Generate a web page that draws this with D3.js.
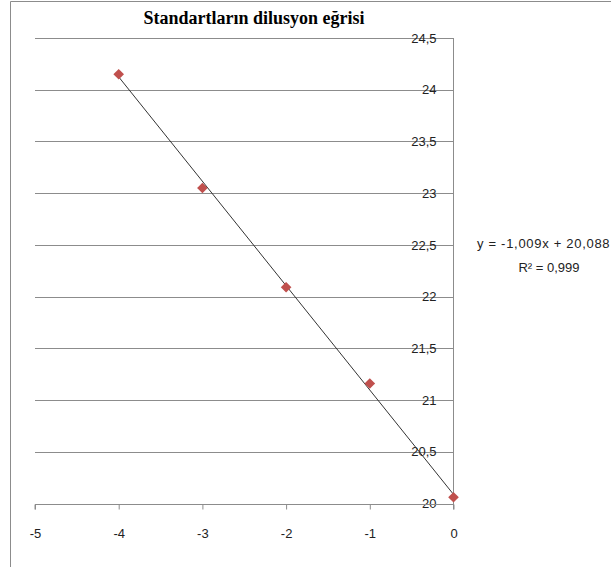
<!DOCTYPE html>
<html>
<head>
<meta charset="utf-8">
<script src="https://cdn.jsdelivr.net/npm/d3@7"></script>
<style>
  body { margin: 0; background: #fff; }
  svg { display: block; }
</style>
</head>
<body>
<div id="chart"></div>
<script>
// Data
var xValues = [-4, -3, -2, -1, 0];
var yValues = [24.15, 23.05, 22.09, 21.16, 20.06];
var xTicks = [-5, -4, -3, -2, -1, 0];
var yTicks = [20, 20.5, 21, 21.5, 22, 22.5, 23, 23.5, 24, 24.5];
var trendSlope = -1.009;
var trendIntercept = 20.088;
var rSquared = 0.999;

var width = 611;
var height = 567;

// Turkish number format: comma decimal, hyphen minus
var locale = d3.formatLocale({ decimal: ",", thousands: ".", grouping: [3], currency: ["", ""], minus: "-" });
var fmt = locale.format("");

var svg = d3.select("#chart")
  .append("svg")
  .attr("width", width)
  .attr("height", height);

// Chart frame
svg.append("path")
  .attr("d", "M10.5," + height + "V1.5H" + width)
  .attr("fill", "none")
  .attr("stroke", "#8c8c8c")
  .attr("stroke-width", 1);

var x = d3.scaleLinear().domain([-5, 0]).range([35, 453.5]);
var y = d3.scaleLinear().domain([20, 24.5]).range([503.5, 38]);

// Gridlines
svg.append("g")
  .selectAll("line")
  .data(yTicks)
  .enter().append("line")
  .attr("x1", x(-5))
  .attr("x2", x(0))
  .attr("y1", function(d) { return Math.round(y(d)) + 0.5; })
  .attr("y2", function(d) { return Math.round(y(d)) + 0.5; })
  .attr("stroke", "#8c8c8c")
  .attr("stroke-width", 1);

// Y axis (sits at x = 0)
var yAxis = svg.append("g")
  .attr("transform", "translate(" + x(0) + ",0)")
  .call(d3.axisLeft(y).tickValues(yTicks).tickSize(0).tickPadding(17).tickFormat(fmt));
yAxis.select(".domain").attr("stroke", "#8c8c8c").attr("d", "M0," + y(24.5) + "V" + (y(20) + 6));

// X axis (sits at y = 20)
var xAxis = svg.append("g")
  .attr("transform", "translate(0," + (Math.round(y(20)) + 0.5) + ")")
  .call(d3.axisBottom(x).tickValues(xTicks).tickSize(5).tickPadding(19).tickFormat(fmt));
xAxis.select(".domain").attr("stroke", "#8c8c8c").attr("d", "M" + x(-5) + ",5V0H" + x(0));
xAxis.selectAll(".tick line").attr("stroke", "#8c8c8c");

svg.selectAll(".tick text")
  .attr("font-family", "'Liberation Sans', Arial, sans-serif")
  .attr("font-size", 13)
  .attr("fill", "#222");

// Linear trendline over the data range
var xExtent = d3.extent(xValues);
var trend = d3.line()
  .x(function(d) { return x(d); })
  .y(function(d) { return y(trendSlope * d + trendIntercept); });
svg.append("path")
  .datum(xExtent)
  .attr("d", trend)
  .attr("fill", "none")
  .attr("stroke", "#333")
  .attr("stroke-width", 1);

// Diamond markers
var diamond = d3.symbol().type(d3.symbolDiamond2).size(72);
svg.append("g")
  .selectAll("path")
  .data(xValues)
  .enter().append("path")
  .attr("d", diamond)
  .attr("transform", function(d, i) { return "translate(" + x(d) + "," + y(yValues[i]) + ")"; })
  .attr("fill", "#c0504d");

// Title
svg.append("text")
  .attr("x", 254)
  .attr("y", 24)
  .attr("text-anchor", "middle")
  .attr("font-family", "'Liberation Serif', 'Times New Roman', serif")
  .attr("font-weight", "bold")
  .attr("font-size", 18)
  .attr("fill", "#000")
  .text("Standartların dilusyon eğrisi");

// Trendline equation
svg.append("text")
  .attr("x", 477)
  .attr("y", 248)
  .attr("font-family", "'Liberation Sans', Arial, sans-serif")
  .attr("font-size", 13)
  .attr("letter-spacing", 0.7)
  .attr("fill", "#222")
  .text("y = " + fmt(trendSlope) + "x + " + fmt(trendIntercept));
svg.append("text")
  .attr("x", 549)
  .attr("y", 272)
  .attr("text-anchor", "middle")
  .attr("font-family", "'Liberation Sans', Arial, sans-serif")
  .attr("font-size", 13)
  .attr("fill", "#222")
  .text("R² = " + fmt(rSquared));
</script>
</body>
</html>
